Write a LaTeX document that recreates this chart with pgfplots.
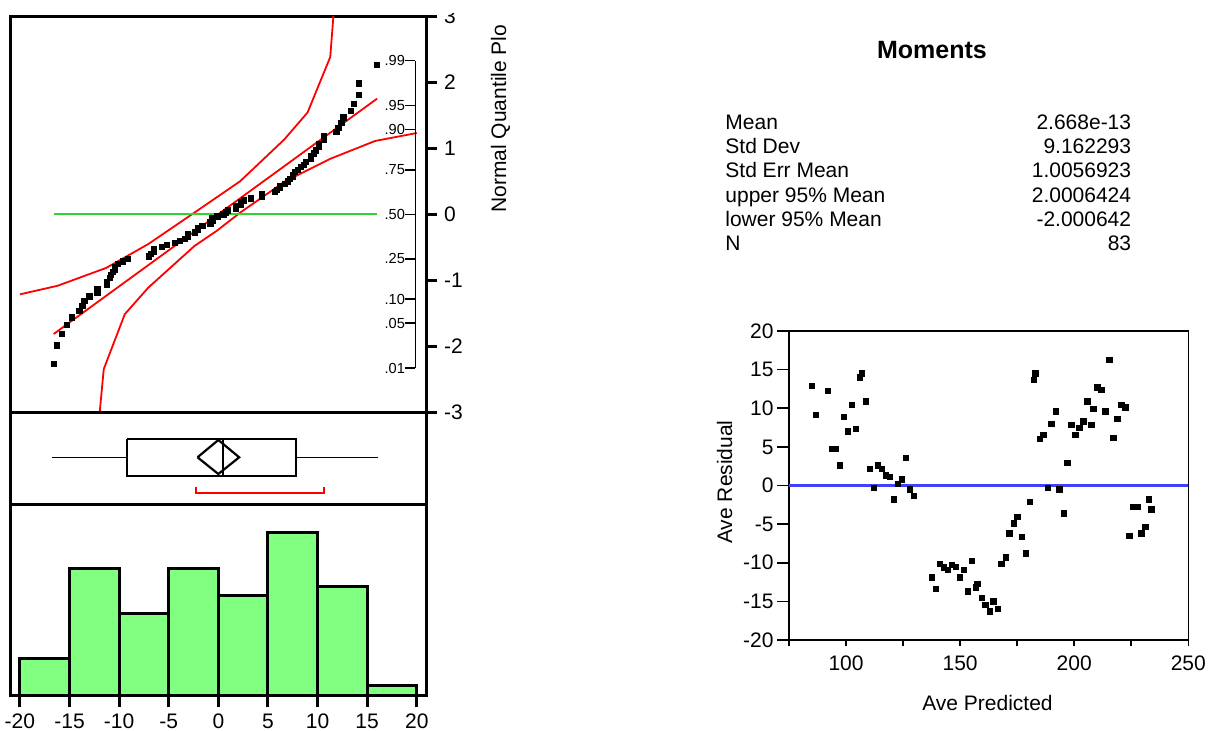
\documentclass[border=0pt]{standalone}
\usepackage{fontspec}
\setmainfont{Liberation Sans}
\usepackage{pgfplots}
\pgfplotsset{compat=1.18}
\definecolor{histgreen}{RGB}{128,255,128}
\definecolor{refgreen}{RGB}{50,210,50}
\definecolor{zeroblue}{RGB}{64,64,255}
\newcommand\lbl{\fontsize{10.5bp}{12bp}\selectfont}
\newcommand\problbl{\fontsize{7.3bp}{8bp}\selectfont}

% residuals vs predicted
\pgfplotstableread{
pred res
85.1 12.9
86.9 9.1
92.0 12.2
93.7 4.7
95.5 4.7
97.2 2.6
99.1 8.9
100.9 7.0
102.6 10.4
104.4 7.3
106.1 14.0
107.0 14.5
108.8 10.9
110.5 2.1
112.3 -0.3
114.0 2.6
115.8 2.1
117.5 1.3
119.3 1.1
121.0 -1.8
122.8 0.2
124.5 0.8
126.3 3.6
127.9 -0.5
129.8 -1.3
137.5 -11.9
139.3 -13.4
141.0 -10.1
142.8 -10.6
144.5 -10.9
146.3 -10.3
148.0 -10.5
149.8 -11.9
151.5 -10.9
153.3 -13.7
155.0 -9.8
156.8 -13.2
157.6 -12.7
159.4 -14.5
161.1 -15.5
162.9 -16.3
164.6 -15.0
166.4 -16.0
168.1 -10.1
169.9 -9.3
171.6 -6.2
173.4 -4.9
175.1 -4.1
176.9 -6.7
178.7 -8.8
180.4 -2.1
182.2 13.7
183.0 14.5
184.8 6.0
186.5 6.5
188.3 -0.3
190.0 8.0
191.8 9.6
193.5 -0.5
195.3 -3.6
197.0 2.9
198.8 7.8
200.5 6.5
202.3 7.5
204.0 8.3
205.8 10.9
207.5 7.8
208.4 9.9
210.2 12.7
211.9 12.4
213.7 9.6
215.4 16.3
217.2 6.2
218.9 8.6
220.7 10.4
222.4 10.1
224.2 -6.5
225.9 -2.8
227.7 -2.8
229.4 -6.2
231.2 -5.4
232.9 -1.8
233.8 -3.1
}\resid

% sorted residuals against normal quantiles
\pgfplotstableread{
x z
-16.6 -2.260
-16.3 -1.981
-15.8 -1.803
-15.3 -1.668
-14.8 -1.559
-14.0 -1.465
-13.7 -1.383
-13.5 -1.309
-13.0 -1.242
-12.2 -1.180
-12.2 -1.122
-11.2 -1.068
-11.2 -1.016
-10.9 -0.967
-10.8 -0.921
-10.6 -0.876
-10.4 -0.833
-10.4 -0.792
-10.1 -0.752
-9.6 -0.712
-9.1 -0.674
-7.0 -0.637
-6.8 -0.601
-6.5 -0.566
-6.5 -0.531
-5.7 -0.497
-5.2 -0.464
-4.4 -0.431
-3.9 -0.398
-3.4 -0.366
-3.1 -0.334
-3.1 -0.303
-2.4 -0.272
-2.1 -0.241
-2.1 -0.210
-1.6 -0.180
-0.8 -0.150
-0.8 -0.120
-0.6 -0.090
-0.6 -0.060
-0.1 -0.030
0.5 0
0.8 0.030
1.0 0.060
1.8 0.090
1.8 0.120
2.3 0.150
2.3 0.180
2.6 0.210
3.3 0.241
4.4 0.272
4.4 0.303
5.7 0.334
5.9 0.366
6.2 0.398
6.2 0.431
6.7 0.464
7.0 0.497
7.2 0.531
7.5 0.566
7.5 0.601
7.7 0.637
8.0 0.674
8.3 0.712
8.6 0.752
8.8 0.792
9.3 0.833
9.3 0.876
9.6 0.921
9.8 0.967
10.1 1.016
10.1 1.068
10.6 1.122
10.6 1.180
11.9 1.242
12.1 1.309
12.4 1.383
12.6 1.465
13.4 1.559
13.7 1.668
14.2 1.803
14.2 1.981
16.0 2.260
}\quant

\begin{document}
\begin{tikzpicture}
\path[use as bounding box] (0,0) rectangle (605bp,-365.5bp);

\pgfplotsset{
  panel/.style={scale only axis, anchor=north west, width=208.35bp,
    xmin=-21, xmax=21,
    axis line style={line width=1.5bp},
    every tick/.style={black, line width=1.5bp},
    tick label style={font=\lbl}},
}

% normal quantile plot
\begin{scope}
\clip (0,-6.5bp) rectangle (300bp,-400bp);
\begin{axis}[panel, at={(5bp,-8bp)}, height=198.35bp,
    ymin=-3, ymax=3,
    xtick=\empty,
    ytick={-3,-2,-1,0,1,2,3},
    yticklabels={-3,-2,-1,0,1,2,3},
    ytick pos=right, tick align=outside, major tick length=5.2bp,
    clip=true]
  \addplot[red, line width=0.9bp] coordinates {
    (-20.0,-1.21) (-16.2,-1.08) (-11.3,-0.81) (-7.07,-0.45) (-2.42,0.025)
    (2.19,0.50) (6.63,1.13) (8.99,1.54) (11.28,2.38) (11.75,3.3)};
  \addplot[red, line width=0.9bp] coordinates {
    (-12.15,-3.3) (-11.55,-2.34) (-9.43,-1.51) (-7.07,-1.11) (-2.42,-0.48)
    (-0.17,-0.25) (2.19,0.025) (6.73,0.50) (11.28,0.84) (15.8,1.11) (20.0,1.23)};
  \addplot[red, line width=0.9bp] coordinates {(-16.6,-1.81) (16.0,1.75)};
  \addplot[refgreen, line width=1bp] coordinates {(-16.6,0) (16.0,0)};
  \addplot[only marks, mark=square*, mark size=1.3bp, black] table[x=x, y=z] {\quant};
  % probability scale
  \draw[line width=0.8bp] (axis cs:19.87,-2.326) -- (axis cs:19.87,2.326);
  \foreach \z/\p in {-2.326/.01, -1.645/.05, -1.282/.10, -0.674/.25, 0/.50,
      0.674/.75, 1.282/.90, 1.645/.95, 2.326/.99}{
    \edef\tmp{\noexpand\draw[line width=0.8bp] (axis cs:18.85,\z) -- (axis cs:19.87,\z);
      \noexpand\node[anchor=east, inner sep=0pt, font=\noexpand\problbl] at (axis cs:18.85,\z) {\p};}
    \tmp}
\end{axis}
\node[rotate=90, anchor=base west, font=\lbl, inner sep=0pt] at (253bp,-106.5bp) {Normal Quantile Plo};
\end{scope}

% outlier box plot
\begin{axis}[panel, at={(5bp,-206.35bp)}, height=45.65bp,
    ymin=412.7, ymax=504, y dir=reverse,
    xtick=\empty, ytick=\empty]
  \addplot[black, line width=0.8bp] coordinates {(-16.8,457.3) (-9.2,457.3)};
  \addplot[black, line width=0.8bp] coordinates {(7.8,457.3) (16.1,457.3)};
  \addplot[black, line width=1.1bp] coordinates {(-9.2,439) (7.8,439) (7.8,476) (-9.2,476) (-9.2,439)};
  \addplot[black, line width=1.1bp] coordinates {(0.46,439) (0.46,476)};
  \addplot[black, line width=1.1bp] coordinates {(-2.1,457.3) (0,440) (2.1,457.3) (0,474) (-2.1,457.3)};
  \addplot[red, line width=1bp] coordinates {(-2.29,486.7) (-2.29,493.3) (10.62,493.3) (10.62,486.7)};
\end{axis}

% histogram
\begin{axis}[panel, at={(5bp,-252bp)}, height=95.5bp,
    ymin=0, ymax=21.13,
    ytick=\empty,
    xtick={-20,-15,-10,-5,0,5,10,15,20},
    xticklabels={-20,-15,-10,-5,0,5,10,15,20},
    xtick pos=bottom, tick align=outside, major tick length=6bp]
  \addplot[ybar interval, fill=histgreen, draw=black, line width=1.5bp] coordinates {
    (-20,4) (-15,14) (-10,9) (-5,14) (0,11) (5,18) (10,12) (15,1) (20,1)};
\end{axis}

% moments
\node[font=\fontsize{12.5bp}{14bp}\selectfont\bfseries, anchor=base] at (466bp,-29.3bp) {Moments};
\foreach \name/\val/\yy in {Mean/2.668e-13/64.6, Std Dev/9.162293/76.75,
    Std Err Mean/1.0056923/88.9, upper 95\% Mean/2.0006424/101.05,
    lower 95\% Mean/-2.000642/113.2, N/83/125.35}{
  \node[font=\lbl, anchor=base west, inner sep=0pt] at (362.5bp,-\yy bp) {\name};
  \node[font=\lbl, anchor=base east, inner sep=0pt] at (565.75bp,-\yy bp) {\val};
}

% residual by predicted
\begin{axis}[scale only axis, anchor=north west, at={(394.5bp,-165.5bp)},
    width=199.65bp, height=154.5bp,
    xmin=75, xmax=250, ymin=-20, ymax=20,
    xtick={100,150,200,250}, xticklabels={100,150,200,250},
    minor xtick={75,125,175,225},
    ytick={-20,-15,-10,-5,0,5,10,15,20},
    yticklabels={-20,-15,-10,-5,0,5,10,15,20},
    xtick pos=bottom, ytick pos=left, tick align=outside,
    xtick style={/pgfplots/major tick length=3bp, /pgfplots/minor tick length=3bp},
    ytick style={/pgfplots/major tick length=6bp},
    axis line style={line width=0.8bp},
    every tick/.style={black, line width=0.8bp},
    tick label style={font=\lbl}]
  \addplot[zeroblue, line width=1.1bp] coordinates {(75,0) (250,0)};
  \addplot[only marks, mark=square*, mark size=1.3bp, black] table[x=pred, y=res] {\resid};
\end{axis}
\node[font=\lbl, rotate=90] at (362.35bp,-241bp) {Ave Residual};
\node[font=\lbl] at (493.75bp,-351.25bp) {Ave Predicted};

\end{tikzpicture}
\end{document}
